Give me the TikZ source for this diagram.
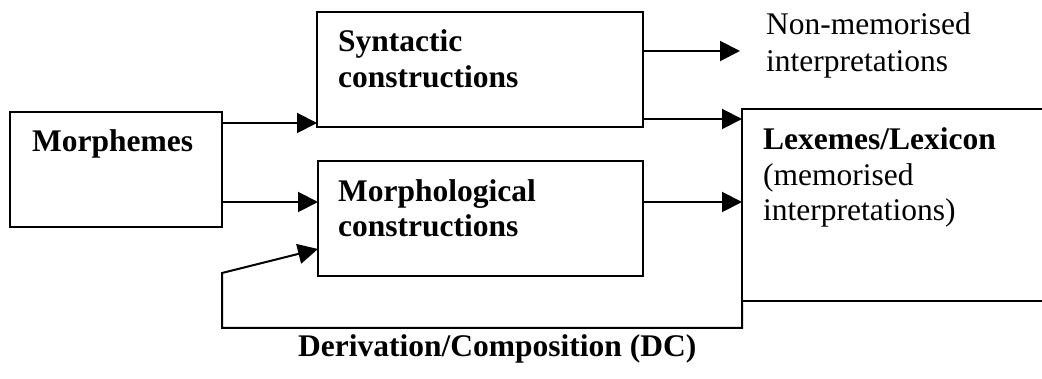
\documentclass[tikz,border=0pt]{standalone}
\usepackage{fontspec}
\setmainfont{Liberation Serif}
\usetikzlibrary{arrows.meta}
\begin{document}
\begin{tikzpicture}[x=1pt,y=-1pt,
  boxnode/.style={draw,line width=2pt,rectangle,inner sep=0pt,outer sep=0pt},
  txt/.style={inner sep=0pt,anchor=base west,font=\fontsize{31.5}{36}\selectfont},
  btxt/.style={txt,font=\fontsize{31.5}{36}\selectfont\bfseries},
  arr/.style={line width=2pt,-{Triangle[length=20pt,width=20pt]}},
  ln/.style={line width=2pt}]
\useasboundingbox (0,0) rectangle (1042,379);
\begin{scope}
\clip (0,0) rectangle (1042,379);
% boxes
\node[boxnode,minimum width=212pt,minimum height=115pt] (morph) at (116,169.5) {};
\node[boxnode,minimum width=326pt,minimum height=115pt] (syn) at (480,69.5) {};
\node[boxnode,minimum width=325pt,minimum height=115pt] (mor) at (480.5,218.5) {};
\node[boxnode,minimum width=306pt,minimum height=192pt] (lex) at (895,205) {};
\end{scope}
% texts
\node[btxt] (tm) at (32,152) {Morphemes};
\node[btxt] (ts1) at (338,52) {Syntactic};
\node[btxt] (ts2) at (338,88) {constructions};
\node[btxt] (to1) at (338,202) {Morphological};
\node[btxt] (to2) at (338,237) {constructions};
\node[txt] (tn1) at (766,35) {Non-memorised};
\node[txt] (tn2) at (766,72) {interpretations};
\node[btxt] (tl1) at (763,150) {Lexemes/Lexicon};
\node[txt] (tl2) at (763,186) {(memorised};
\node[txt] (tl3) at (763,221) {interpretations)};
\node[btxt] (tc) at (298,356) {Derivation/Composition (DC)};
% connectors
\coordinate (nm) at (740,51);
\coordinate (fb1) at (742,328);
\coordinate (fb2) at (222,328);
\coordinate (fb3) at (222,273);
\draw[arr] (morph.east |- 0,123) -- (syn.west |- 0,123);
\draw[arr] (morph.east |- 0,202) -- (mor.west |- 0,202);
\draw[arr] (syn.east |- nm) -- (nm);
\draw[arr] (syn.east |- 0,119) -- (lex.west |- 0,119);
\draw[arr] (mor.east |- 0,202) -- (lex.west |- 0,202);
\draw[arr] (lex.south west) -- (fb1) -- (fb2) -- (fb3) -- (mor.west |- 0,249);
\end{tikzpicture}
\end{document}
